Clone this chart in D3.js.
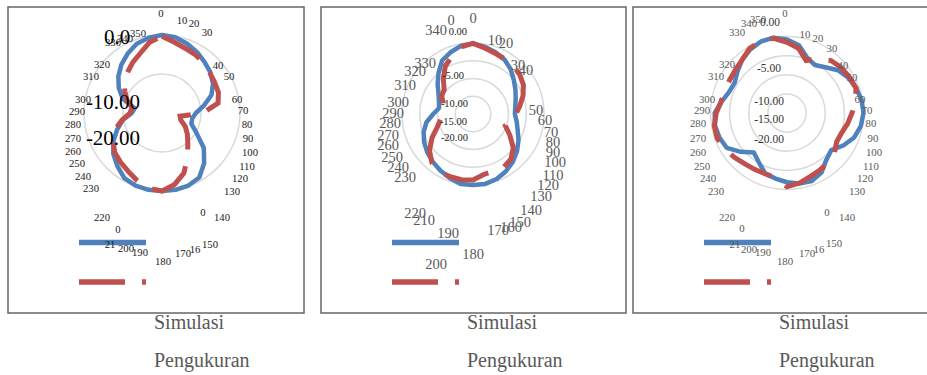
<!DOCTYPE html>
<html>
<head>
<meta charset="utf-8">
<script src="https://cdn.jsdelivr.net/npm/d3@7"></script>
<style>
  body { margin: 0; background: #fff; }
  svg { display: block; }
</style>
</head>
<body>
<div id="chart"></div>
<script>
// ---- data (dB, one value per 10 degree category) ----
const angles = [0, 10, 20, 30, 40, 50, 60, 70, 80, 90, 100, 110, 120, 130, 140, 150, 160, 170,
                180, 190, 200, 210, 220, 230, 240, 250, 260, 270, 280, 290, 300, 310, 320, 330, 340, 350];
const seriesNames = ["Simulasi", "Pengukuran"];

const simulasi1 = [0, -0.3, -1.1, -2.0, -3.0, -3.8, -4.9, -6.5, -9.1, -11.3, -12.1, -12.0, -9.8, -6.0, -3.2, -0.9, -0.2, 0,
                   0, 0, -0.2, -0.7, -2.2, -3.7, -5.6, -7.8, -9.8, -12.3, -12.9, -9.3, -7.2, -5.4, -3.8, -2.4, -1.1, -0.4];
const pengukuran1 = [-0.3, -1.6, -2.4, -2.8, -3.3, -4.0, -4.4, -4.6, -5.4, -9.5, -15.3, -14.9, -13.1, -11.5, -9.7, -6.9, -3.6, -1.4,
                     0, -0.4, -1.5, -2.7, -3.5, -4.2, -5.5, -7.0, -9.6, -11.8, -12.2, -10.5, -9.0, -7.2, -6.3, -5.0, -3.7, -1.6];

const simulasi2 = [-0.1, -0.8, -1.5, -2.3, -3.5, -5.0, -6.2, -7.2, -7.9, -8.2, -7.5, -6.6, -5.2, -3.8, -2.5, -1.4, -0.5, 0,
                   0, 0, -0.8, -1.6, -2.4, -3.2, -4.1, -5.2, -6.7, -8.8, -10.3, -9.8, -8.8, -7.0, -4.9, -2.6, -1.5, -0.5];
const pengukuran2 = [-0.1, -1.1, -1.8, -2.1, -2.3, -2.8, -3.6, -5.0, -6.6, -7.9, -9.0, -10.3, -8.0, -5.2, -3.4, -2.7, -2.9, -2.7,
                     -1.4, -1.2, -1.2, -1.2, -2.0, -4.0, -6.7, -9.3, -10.7, -11.3, -11.5, -11.1, -9.8, -9.4, -7.0, -4.4, -2.7, -0.8];

const simulasi3 = [-0.8, -2.0, -4.6, -5.5, -4.4, -2.6, -1.5, -0.8, -0.2, 0, -0.4, -1.3, -3.0, -4.9, -4.0, -2.0, -1.1, -1.3,
                   -1.9, -2.6, -3.2, -5.2, -6.5, -4.2, -1.8, -1.2, -0.9, -1.1, -2.7, -3.9, -4.2, -3.1, -1.8, -0.8, -0.1, 0];
const pengukuran3 = [-1.5, -2.8, -5.4, -3.7, -2.1, -1.5, -1.2, -0.8, -1.8, -3.0, -3.9, -4.8, -5.0, -3.8, -3.2, -2.8, -2.3, -1.4,
                     -0.7, -2.8, -3.1, -3.0, -2.7, -2.0, -1.3, -0.6, -0.7, -1.5, -2.5, -2.8, -2.7, -2.4, -1.8, -0.5, 0, -0.2];

// value axis
const valueDomain = [-20, 0];
const gridTicks1 = [-10, 0];
const gridTicks23 = [-15, -10, -5, 0];
const valueLabels1 = ["0.0", "-10.00", "-20.00"];
const valueLabels2 = ["0.00", "-5.00", "-10.00", "-15.00", "-20.00"];

// category labels as they ended up on the page (several got broken / shifted)
const catLabels1 = ["0", "10", "20", "30", "40", "50", "60", "70", "80", "90", "100", "110", "120", "130", "140", "0",
                    "150", "16", "170", "180", "190", "200", "21", "0", "220", "230", "240", "250", "260", "270",
                    "280", "290", "300", "310", "320", "330", "340", "350"];
const catLabels2 = ["0", "10", "20", "30", "40", "50", "60", "70", "80", "90", "100", "110", "120", "130", "140",
                    "150", "160", "170", "180", "190", "200", "210", "220", "230", "240", "250", "260", "270",
                    "280", "290", "300", "310", "320", "330", "340", "0"];
const catLabels3 = catLabels1;

// ---- layout (label positions relative to each panel's left edge) ----
const catPos1 = [[153,13],[174,20],[186,23],[199,32],[210,65],[221,76],[229,99],[235,110],[239,124],[240,138],
  [242,152],[239,166],[232,178],[224,191],[214,217],[195,212],[202,244],[187,249],[175,253],[155,261],[132,252],
  [118,248],[102,244],[110,229],[94,217],[83,188],[75,176],[69,163],[65,151],[65,138],[65,124],[69,111],[75,99],
  [83,76],[94,64],[105,42],[117,38],[130,33]];
const catPos3 = [[152,13],[172,34],[185,38],[199,48],[210,65],[219,77],[227,99],[234,110],[238,123],[240,138],
  [241,152],[238,166],[232,178],[224,191],[214,217],[194,212],[201,243],[186,249],[174,253],[152,261],[130,252],
  [116,249],[102,244],[109,228],[94,217],[83,191],[75,178],[69,166],[65,152],[65,138],[65,123],[69,110],[74,99],
  [83,76],[94,64],[104,32],[116,23],[125,19]];
const catPos2 = [[152,18],[174,40],[185,43],[197,65],[205,70],[215,110],[224,120],[230,132],[232,142],[232,152],
  [234,162],[232,175],[227,185],[220,196],[210,210],[199,222],[190,227],[177,230],[152,254],[127,233],[115,264],
  [103,220],[94,213],[84,177],[77,167],[71,157],[67,145],[67,135],[69,123],[72,113],[77,102],[84,85],[94,71],
  [104,63],[115,30],[130,20]];

const panels = [
  { x: 8, w: 296, cx: 154, cy: 113, R: 78, grid: gridTicks1, sim: simulasi1, meas: pengukuran1,
    cats: catLabels1, catPos: catPos1, catSize: 10.7, catColor: "#1a1a1a",
    vals: valueLabels1, valPos: [[109,37],[105,102],[105,138]], valSize: 21, valColor: "#000", valAnchor: "middle",
    dashOffset: 2 },
  { x: 321, w: 305, cx: 152, cy: 114, R: 71, grid: gridTicks23, sim: simulasi2, meas: pengukuran2,
    cats: catLabels2, catPos: catPos2, catSize: 14.5, catColor: "#595959",
    vals: valueLabels2, valPos: [[146,31],[143,75],[147,103],[146,121],[147,137]], valSize: 10.5, valColor: "#222", valAnchor: "end",
    dashOffset: 12 },
  { x: 633, w: 300, cx: 154, cy: 113, R: 76.5, grid: gridTicks23, sim: simulasi3, meas: pengukuran3,
    cats: catLabels3, catPos: catPos3, catSize: 10.8, catColor: "#595959",
    vals: valueLabels2, valPos: [[147,22],[148,68],[151,101],[151,119],[151,139]], valSize: 11.5, valColor: "#333", valAnchor: "end",
    dashOffset: 13 }
];

const BLUE = "#4F81BD", RED = "#C0504D";
const FONT = "'Liberation Serif', 'Times New Roman', serif";

const svg = d3.select("#chart").append("svg")
  .attr("width", 927)
  .attr("height", 375);

const angleScale = d3.scaleLinear().domain([0, 360]).range([0, 2 * Math.PI]);

panels.forEach(p => {
  const g = svg.append("g").attr("transform", `translate(${p.x},0)`);

  // frame
  g.append("rect")
    .attr("x", 0).attr("y", 7)
    .attr("width", p.w).attr("height", 306)
    .attr("fill", "none")
    .attr("stroke", "#666")
    .attr("stroke-width", 1.5);

  const r = d3.scaleLinear().domain(valueDomain).range([0, p.R]);
  const plot = g.append("g").attr("transform", `translate(${p.cx},${p.cy})`);

  // circular gridlines
  plot.selectAll("circle.grid")
    .data(p.grid)
    .join("circle")
    .attr("class", "grid")
    .attr("r", d => r(d))
    .attr("fill", "none")
    .attr("stroke", "#d9d9d9")
    .attr("stroke-width", 1.5);

  const line = d3.lineRadial()
    .angle((d, i) => angleScale(angles[i]))
    .radius(d => r(d))
    .curve(d3.curveLinearClosed);

  plot.append("path")
    .datum(p.sim)
    .attr("d", line)
    .attr("fill", "none")
    .attr("stroke", BLUE)
    .attr("stroke-width", 4.5)
    .attr("stroke-linejoin", "round");

  plot.append("path")
    .datum(p.meas)
    .attr("d", line)
    .attr("fill", "none")
    .attr("stroke", RED)
    .attr("stroke-width", 5)
    .attr("stroke-dasharray", "46,17")
    .attr("stroke-dashoffset", p.dashOffset);

  // legend lines
  const legendX = [71, 138];
  g.append("line")
    .attr("x1", legendX[0]).attr("x2", legendX[1])
    .attr("y1", 242.5).attr("y2", 242.5)
    .attr("stroke", BLUE).attr("stroke-width", 5.5);
  g.append("line")
    .attr("x1", legendX[0]).attr("x2", legendX[1])
    .attr("y1", 282).attr("y2", 282)
    .attr("stroke", RED).attr("stroke-width", 5.5)
    .attr("stroke-dasharray", "46,17");

  // category labels (scattered)
  g.selectAll("text.cat")
    .data(p.cats)
    .join("text")
    .attr("class", "cat")
    .attr("x", (d, i) => p.catPos[i][0])
    .attr("y", (d, i) => p.catPos[i][1])
    .attr("text-anchor", "middle")
    .attr("dominant-baseline", "central")
    .style("font-family", FONT)
    .style("font-size", p.catSize + "px")
    .style("fill", p.catColor)
    .text(d => d);

  // value axis labels
  g.selectAll("text.val")
    .data(p.vals)
    .join("text")
    .attr("class", "val")
    .attr("x", (d, i) => p.valPos[i][0])
    .attr("y", (d, i) => p.valPos[i][1])
    .attr("text-anchor", p.valAnchor)
    .attr("dominant-baseline", "central")
    .style("font-family", FONT)
    .style("font-size", p.valSize + "px")
    .style("fill", p.valColor)
    .text(d => d);

  // legend text, pushed below the frame
  g.selectAll("text.legend")
    .data(seriesNames)
    .join("text")
    .attr("class", "legend")
    .attr("x", 146)
    .attr("y", (d, i) => 328.5 + i * 38)
    .style("font-family", FONT)
    .style("font-size", "20px")
    .style("fill", "#595959")
    .text(d => d);
});
</script>
</body>
</html>
